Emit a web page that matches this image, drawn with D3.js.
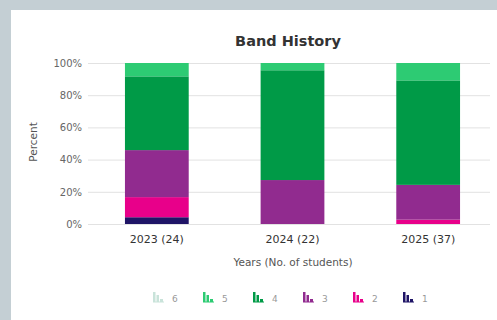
<!DOCTYPE html>
<html>
<head>
<meta charset="utf-8">
<script src="https://cdn.jsdelivr.net/npm/d3@7"></script>
<style>
	body { margin: 0; background: #c4cfd4; }
	svg { display: block; }
</style>
</head>
<body>
<div id="chart"></div>
<script>
// years on the x axis, with the number of students
var years = ["2023 (24)", "2024 (22)", "2025 (37)"];
// bands, stacked bottom to top
var bands = ["1", "2", "3", "4", "5", "6"];
// percent of students in each band, one value per year
var band1 = [4.2, 0, 0];
var band2 = [12.5, 0, 2.7];
var band3 = [29.2, 27.3, 21.6];
var band4 = [45.8, 68.2, 64.9];
var band5 = [8.3, 4.5, 10.8];
var band6 = [0, 0, 0];
var yTicks = [0, 20, 40, 60, 80, 100];

var bandColors = {
	"1": "#1f1466",
	"2": "#e8008a",
	"3": "#912b8f",
	"4": "#009a47",
	"5": "#2dcb73",
	"6": "#c9e3da"
};

var font = "DejaVu Sans, Verdana, sans-serif";

var series = [band1, band2, band3, band4, band5, band6];
var rows = years.map(function(y, i) {
	var r = {year: y};
	bands.forEach(function(b, j) { r[b] = series[j][i]; });
	return r;
});

var width = 497, height = 320;
var svg = d3.select("#chart").append("svg")
	.attr("width", width)
	.attr("height", height);

// white card
svg.append("rect")
	.attr("x", 11).attr("y", 10)
	.attr("width", width - 11).attr("height", height - 10)
	.attr("fill", "#fff");

var x = d3.scaleBand()
	.domain(years)
	.range([89, 496])
	.paddingInner(0.53)
	.paddingOuter(0.265);

var y = d3.scaleLinear()
	.domain([0, 100])
	.range([224, 63]);

// grid
svg.append("g")
	.selectAll("line")
	.data(yTicks)
	.enter().append("line")
		.attr("x1", 88).attr("x2", 490)
		.attr("y1", function(d) { return y(d) + 0.5; })
		.attr("y2", function(d) { return y(d) + 0.5; })
		.attr("stroke", "#e2e2e2")
		.attr("stroke-width", 1);

var yAxis = svg.append("g")
	.attr("transform", "translate(82,0)")
	.call(d3.axisLeft(y).tickValues(yTicks).tickSize(0).tickPadding(0)
		.tickFormat(function(d) { return d + "%"; }));
yAxis.select(".domain").remove();
yAxis.selectAll("text")
	.attr("font-family", font)
	.attr("font-size", 10)
	.attr("fill", "#666");

var stack = d3.stack().keys(bands);
var layers = stack(rows);

svg.append("g")
	.selectAll("g")
	.data(layers)
	.enter().append("g")
		.attr("fill", function(d) { return bandColors[d.key]; })
	.selectAll("rect")
	.data(function(d) { return d; })
	.enter().append("rect")
		.attr("x", function(d) { return x(d.data.year); })
		.attr("width", x.bandwidth())
		.attr("y", function(d) { return y(d[1]); })
		.attr("height", function(d) { return y(d[0]) - y(d[1]); });

var xAxis = svg.append("g")
	.attr("transform", "translate(0,243)")
	.call(d3.axisBottom(x).tickSize(0).tickPadding(0));
xAxis.select(".domain").remove();
xAxis.selectAll("text")
	.attr("dy", 0)
	.attr("font-family", font)
	.attr("font-size", 11)
	.attr("fill", "#333");

// title and axis labels
svg.append("text")
	.attr("x", 288).attr("y", 46)
	.attr("text-anchor", "middle")
	.attr("font-family", font)
	.attr("font-weight", "bold")
	.attr("font-size", 14.5)
	.attr("fill", "#333")
	.text("Band History");

svg.append("text")
	.attr("x", 293).attr("y", 265.5)
	.attr("text-anchor", "middle")
	.attr("font-family", font)
	.attr("font-size", 10.5)
	.attr("fill", "#555")
	.text("Years (No. of students)");

svg.append("text")
	.attr("transform", "translate(37,142) rotate(-90)")
	.attr("text-anchor", "middle")
	.attr("font-family", font)
	.attr("font-size", 10.5)
	.attr("fill", "#555")
	.text("Percent");

// legend, top band first
var legendBands = bands.slice().reverse();
var legend = svg.append("g")
	.selectAll("g")
	.data(legendBands)
	.enter().append("g")
		.attr("transform", function(d, i) { return "translate(" + (153 + i * 50) + ",292)"; });

var iconBars = [[0, 2.5, 10], [3.5, 2.5, 7], [7, 3, 3]];
legend.each(function(d) {
	var g = d3.select(this);
	g.selectAll("rect.bar")
		.data(iconBars)
		.enter().append("rect")
			.attr("class", "bar")
			.attr("x", function(b) { return b[0]; })
			.attr("y", function(b) { return 10 - b[2]; })
			.attr("width", function(b) { return b[1]; })
			.attr("height", function(b) { return b[2]; })
			.attr("fill", bandColors[d]);
	g.append("rect")
		.attr("x", 0).attr("y", 9.5)
		.attr("width", 11).attr("height", 1)
		.attr("fill", bandColors[d]);
});

legend.append("text")
	.attr("x", 19).attr("y", 9.5)
	.attr("font-family", font)
	.attr("font-size", 9)
	.attr("fill", "#999")
	.text(function(d) { return d; });
</script>
</body>
</html>
